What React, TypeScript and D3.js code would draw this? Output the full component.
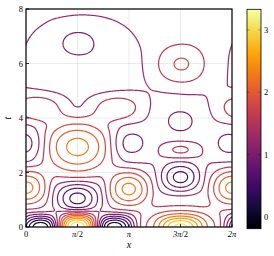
import React, { useMemo } from 'react';
import * as d3 from 'd3';

// Axis ticks (x in units of π)
const xTickValues = [0, 0.5, 1, 1.5, 2];
const xTickLabels = [['0', ''], ['π', '/2'], ['π', ''], ['3π', '/2'], ['2π', '']];
const tTickValues = [0, 2, 4, 6, 8];
const cbTickValues = [0, 1, 2, 3];
const colorDomain = [-0.19, 3.33];
const levelCount = 14;
const baseLevel = 1.45;

// Field features: centre x (units of π), centre t, amplitude, half-widths
const featX = [0.5, 0.14, 0.86, 1.5, 1.5, 0.5, 0.0, 1.0, 1.5, 0.5, 1.5, 0.0, 1.0, 1.5, 1.5, 0.55, 0.5, 1.5, 0.88, 0.12];
const featT = [0.0, 0.0, 0.0, 0.0, 0.0, 1.05, 1.45, 1.4, 1.8, 2.95, 3.4, 3.05, 3.05, 2.85, 3.95, 6.0, 6.85, 5.95, 4.4, 4.4];
const featAmp = [1.85, -1.6, -1.6, 1.1, 0.62, -1.0, 0.98, 0.98, -0.88, 0.98, -0.3, -0.42, -0.42, 0.45, -0.2, -0.32, -0.2, 0.42, 0.45, 0.45];
const featWx = [0.3, 0.3, 0.3, 0.55, 0.3, 0.34, 0.32, 0.32, 0.3, 0.5, 0.7, 0.3, 0.3, 0.3, 0.26, 1.05, 0.35, 0.4, 0.42, 0.42];
const featWt = [0.8, 0.7, 0.7, 1.0, 0.6, 0.9, 1.05, 1.05, 0.85, 1.55, 2.8, 1.0, 1.0, 0.51, 0.75, 3.2, 0.9, 1.2, 0.8, 0.8];

function kernel(d: number, w: number) {
  const u = Math.abs(d) / w;
  return u >= 1 ? 0 : (1 + Math.cos(Math.PI * u)) / 2;
}

function field(x: number, t: number) {
  let v = baseLevel;
  for (let k = 0; k < featX.length; k++) {
    const kt = kernel(t - featT[k], featWt[k]);
    if (kt === 0) continue;
    for (const s of [-2, 0, 2]) {
      const kx = kernel(x - featX[k] - s, featWx[k]);
      if (kx > 0) v += featAmp[k] * kx * kt;
    }
  }
  return v;
}

export default function App() {
  const W = 274, H = 256;
  const plot = { left: 26, right: 232, top: 9, bottom: 227 };
  const xScale = d3.scaleLinear().domain([0, 2]).range([plot.left, plot.right]);
  const tScale = d3.scaleLinear().domain([0, 8]).range([plot.bottom, plot.top]);
  const color = d3.scaleSequential(d3.interpolateInferno).domain(colorDomain as [number, number]);
  const cb = { left: 247, right: 261, top: 9.3, bottom: 228.7 };
  const cbScale = d3.scaleLinear().domain(colorDomain).range([cb.bottom, cb.top]);

  const contourPaths = useMemo(() => {
    const nx = 260, nt = 280;
    const x0 = -0.03, x1 = 2.03, t0 = -0.12, t1 = 8.12;
    const sx = (x1 - x0) / (nx - 1), st = (t1 - t0) / (nt - 1);
    const values: number[] = new Array(nx * nt);
    for (let j = 0; j < nt; j++) {
      const t = t1 - j * st;
      for (let i = 0; i < nx; i++) values[j * nx + i] = field(x0 + i * sx, t);
    }
    const levels = d3.range(1, levelCount).map(k => colorDomain[0] + (k * (colorDomain[1] - colorDomain[0])) / levelCount);
    const cs = d3.contours().size([nx, nt]).thresholds(levels)(values);
    return cs.map(c => {
      let d = '';
      for (const poly of c.coordinates) {
        for (const ring of poly) {
          ring.forEach((p, idx) => {
            const px = xScale(x0 + (p[0] - 0.5) * sx);
            const py = tScale(t1 - (p[1] - 0.5) * st);
            d += (idx === 0 ? 'M' : 'L') + px.toFixed(2) + ',' + py.toFixed(2);
          });
          d += 'Z';
        }
      }
      return { d, value: c.value };
    });
  }, []);

  const gradStops = d3.range(0, 1.0001, 0.05);
  const font = "'Liberation Serif', 'DejaVu Serif', serif";

  return (
    <svg width={W} height={H} style={{ position: 'absolute', left: 0, top: 0, background: '#fff' }} fontFamily={font}>
      <defs>
        <clipPath id="plotclip">
          <rect x={plot.left} y={plot.top} width={plot.right - plot.left} height={plot.bottom - plot.top} />
        </clipPath>
        <linearGradient id="cbgrad" x1="0" y1="1" x2="0" y2="0">
          {gradStops.map(s => (
            <stop key={s} offset={s} stopColor={d3.interpolateInferno(s)} />
          ))}
        </linearGradient>
      </defs>
      {xTickValues.map(v => (
        <line key={'gx' + v} x1={xScale(v)} x2={xScale(v)} y1={plot.top} y2={plot.bottom} stroke="#000" strokeOpacity={0.1} strokeWidth={0.8} />
      ))}
      {tTickValues.map(v => (
        <line key={'gy' + v} x1={plot.left} x2={plot.right} y1={tScale(v)} y2={tScale(v)} stroke="#000" strokeOpacity={0.1} strokeWidth={0.8} />
      ))}
      <g clipPath="url(#plotclip)">
        {contourPaths.map((c, i) => (
          <path key={i} d={c.d} fill="none" stroke={color(c.value)} strokeWidth={1.2} strokeLinejoin="round" />
        ))}
      </g>
      <rect x={plot.left} y={plot.top} width={plot.right - plot.left} height={plot.bottom - plot.top} fill="none" stroke="#000" strokeWidth={1.2} />
      {xTickValues.map(v => (
        <line key={'tx' + v} x1={xScale(v)} x2={xScale(v)} y1={plot.bottom} y2={plot.bottom - 3} stroke="#000" strokeWidth={0.8} />
      ))}
      {tTickValues.map(v => (
        <line key={'ty' + v} x1={plot.left} x2={plot.left + 3} y1={tScale(v)} y2={tScale(v)} stroke="#000" strokeWidth={0.8} />
      ))}
      {xTickValues.map((v, i) => (
        <text key={'lx' + v} x={xScale(v)} y={237} fontSize={8.5} textAnchor="middle">
          <tspan fontStyle={xTickLabels[i][0].includes('π') ? 'italic' : 'normal'}>{xTickLabels[i][0]}</tspan>
          {xTickLabels[i][1] && <tspan>{xTickLabels[i][1]}</tspan>}
        </text>
      ))}
      {tTickValues.map(v => (
        <text key={'ly' + v} x={23} y={tScale(v) + 3} fontSize={8.5} textAnchor="end">{v}</text>
      ))}
      <text x={129} y={248} fontSize={10} fontStyle="italic" textAnchor="middle">x</text>
      <text x={0} y={0} fontSize={10} fontStyle="italic" textAnchor="middle" transform={`translate(11,118) rotate(-90)`}>t</text>
      <rect x={cb.left} y={cb.top} width={cb.right - cb.left} height={cb.bottom - cb.top} fill="url(#cbgrad)" stroke="#000" strokeWidth={0.8} />
      {cbTickValues.map(v => (
        <g key={'cb' + v}>
          <line x1={cb.left} x2={cb.left + 3} y1={cbScale(v)} y2={cbScale(v)} stroke="#000" strokeOpacity={0.35} strokeWidth={0.8} />
          <line x1={cb.right - 3} x2={cb.right} y1={cbScale(v)} y2={cbScale(v)} stroke="#000" strokeOpacity={0.35} strokeWidth={0.8} />
          <text x={264} y={cbScale(v) + 3} fontSize={8.5}>{v}</text>
        </g>
      ))}
    </svg>
  );
}
